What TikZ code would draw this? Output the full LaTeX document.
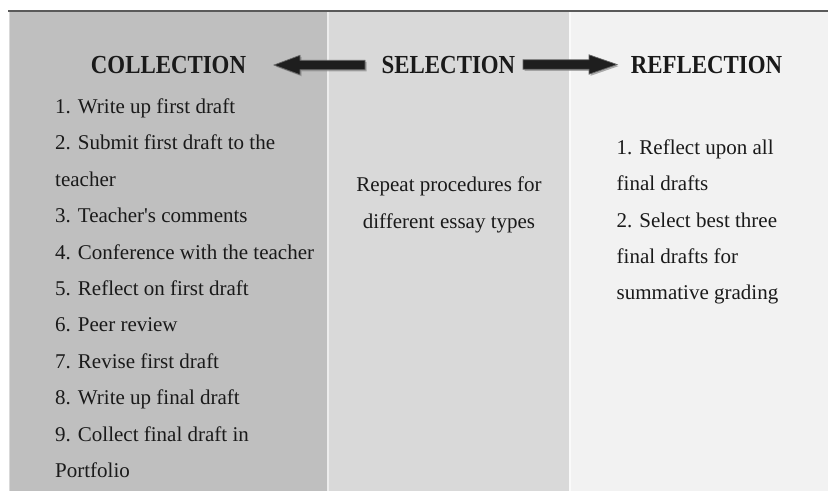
\documentclass[tikz,border=0pt]{standalone}
\usepackage{fontspec}
\setmainfont[Ligatures=NoCommon]{Liberation Serif}
\newfontfamily\headfont[FakeStretch=0.88]{Liberation Serif Bold}
\usetikzlibrary{shadows}
\definecolor{panelA}{HTML}{BFBFBF}
\definecolor{panelB}{HTML}{D9D9D9}
\definecolor{panelC}{HTML}{F2F2F2}
\definecolor{topline}{HTML}{5A5A5A}
\definecolor{ink}{HTML}{1A1A1A}
\definecolor{arrowfill}{HTML}{1E1E1E}
\tikzset{
  head/.style={font=\headfont\fontsize{26}{30}\selectfont, text=ink, inner sep=0pt, anchor=base},
  body/.style={font=\fontsize{21}{24}\selectfont, text=ink, inner sep=0pt, anchor=base west},
  bodyc/.style={font=\fontsize{21}{24}\selectfont, text=ink, inner sep=0pt, anchor=base},
  blockarrow/.style={fill=arrowfill, draw=black!60, line width=0.7pt,
    drop shadow={shadow xshift=1.6pt, shadow yshift=-1.6pt, fill=black!45, opacity=0.7}},
}
\begin{document}
\begin{tikzpicture}[x=1pt,y=-1pt]
\useasboundingbox (0,0) rectangle (828,491);
\fill[white] (0,0) rectangle (828,491);
% panels
\fill[panelA] (9,11) rectangle (327,491);
\fill[panelB] (329,11) rectangle (568.5,491);
\fill[panelC] (570.5,11) rectangle (828,491);
\fill[white!93!black] (327,11) rectangle (329,491);
\fill[white!98!black] (568.5,11) rectangle (570.5,491);
\fill[white!85!black] (8.5,11) rectangle (9.6,491);
\draw[topline, line width=2pt] (8,10.5) -- (828,10.5);
% headers
\node[head] (col) at (168.5,73.5) {COLLECTION};
\node[head] (sel) at (448.5,73.5) {SELECTION};
\node[head] (ref) at (706.5,73.5) {REFLECTION};
% block arrows
\coordinate (la) at (274,65);
\coordinate (ra) at (617,64.5);
\path[blockarrow] (la) -- ++(26,-9.7) -- ++(0,5) -- ++(65,0) -- ++(0,9.4) -- ++(-65,0) -- ++(0,5) -- cycle;
\path[blockarrow] (ra) -- ++(-28,-9.7) -- ++(0,5) -- ++(-66,0) -- ++(0,9.4) -- ++(66,0) -- ++(0,5) -- cycle;
% collection list
\node[body] (c1) at (55,113.5) {1. Write up first draft};
\node[body] (c2) at (55,149.9) {2. Submit first draft to the};
\node[body] (c2b) at (55,186.3) {teacher};
\node[body] (c3) at (55,222.7) {3. Teacher\textquotesingle s comments};
\node[body] (c4) at (55,259.1) {4. Conference with the teacher};
\node[body] (c5) at (55,295.5) {5. Reflect on first draft};
\node[body] (c6) at (55,331.9) {6. Peer review};
\node[body] (c7) at (55,368.3) {7. Revise first draft};
\node[body] (c8) at (55,404.7) {8. Write up final draft};
\node[body] (c9) at (55,441.1) {9. Collect final draft in};
\node[body] (c9b) at (55,477.5) {Portfolio};
% selection text
\node[bodyc] (s1) at (449,191.7) {Repeat procedures for};
\node[bodyc] (s2) at (449,228.1) {different essay types};
% reflection list
\node[body] (r1) at (616.5,154.3) {1. Reflect upon all};
\node[body] (r1b) at (616.5,190.7) {final drafts};
\node[body] (r2) at (616.5,227.1) {2. Select best three};
\node[body] (r2b) at (616.5,263.5) {final drafts for};
\node[body] (r2c) at (616.5,299.9) {summative grading};
\end{tikzpicture}
\end{document}
